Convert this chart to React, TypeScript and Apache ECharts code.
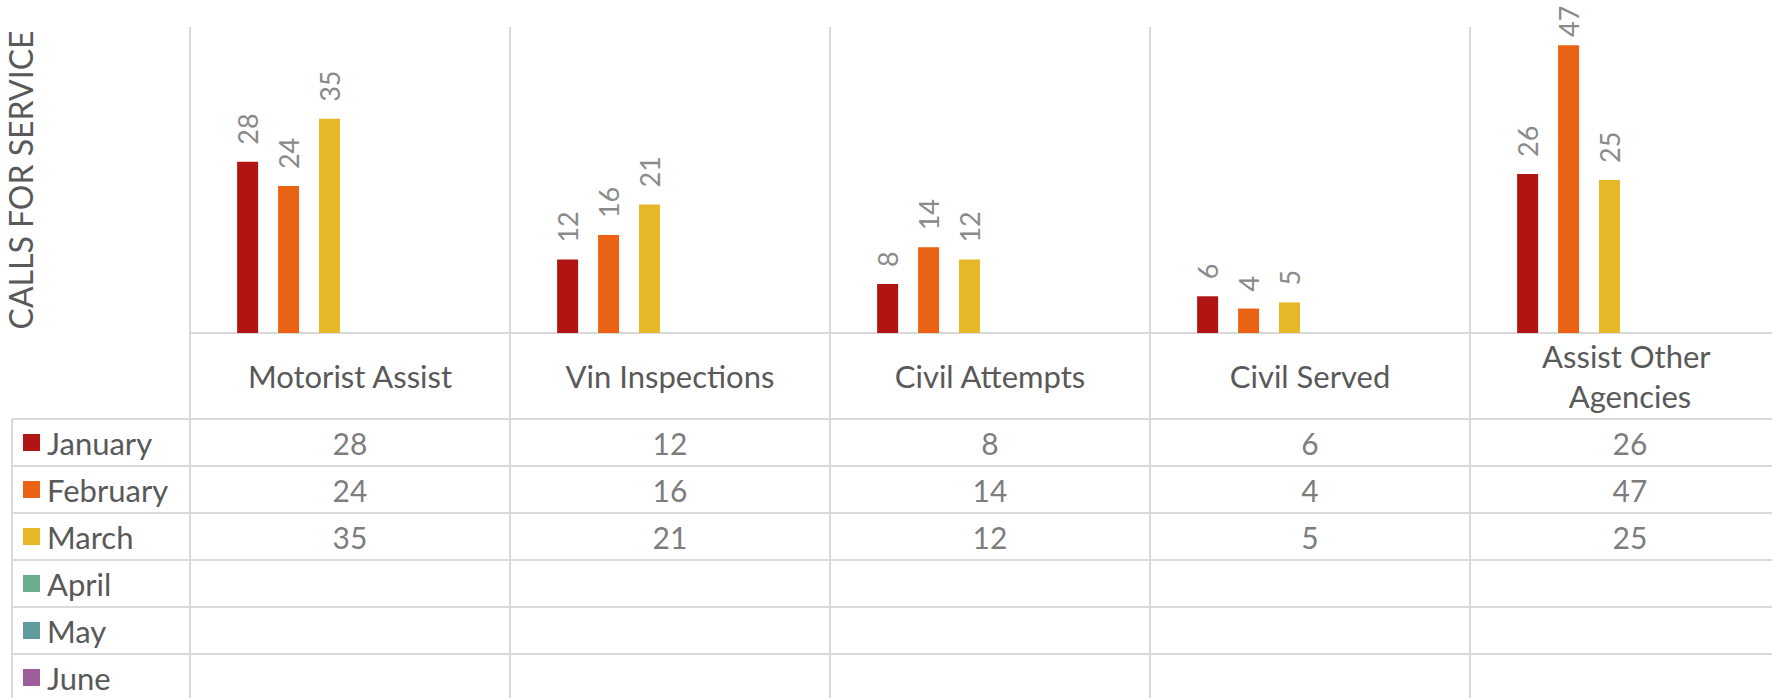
import React, { useEffect, useRef } from "react";
import * as echarts from "echarts";

const categories = [
  "Motorist Assist",
  "Vin Inspections",
  "Civil Attempts",
  "Civil Served",
  "Assist Other Agencies",
];
const months = ["January", "February", "March", "April", "May", "June"];
const january: (number | null)[] = [28, 12, 8, 6, 26];
const february: (number | null)[] = [24, 16, 14, 4, 47];
const march: (number | null)[] = [35, 21, 12, 5, 25];
const april: (number | null)[] = [null, null, null, null, null];
const may: (number | null)[] = [null, null, null, null, null];
const june: (number | null)[] = [null, null, null, null, null];
const monthValues = [january, february, march, april, may, june];
const monthColors = ["#B01513", "#EA6312", "#E6B729", "#6AAC90", "#5F9C9D", "#9E5E9B"];
const yAxisTitle = "CALLS FOR SERVICE";
const yMin = 0;
const yMax = 50;

const LINE = "#D9D9D9";
const TEXT = "#595959";
const FONT = "Lato";

export default function App() {
  const ref = useRef<HTMLDivElement>(null);

  useEffect(() => {
    if (!ref.current) return;
    const chart = echarts.init(ref.current, undefined, { renderer: "svg" });

    const lineStyle = { color: LINE, width: 2 };

    const barSeries = months.map((m, i) => ({
      type: "bar",
      name: m,
      xAxisIndex: 0,
      yAxisIndex: 0,
      data: monthValues[i].map((v) => (v == null ? "-" : v)),
      barWidth: 21,
      barGap: "95%",
      itemStyle: { color: monthColors[i] },
      label: {
        show: true,
        position: "top",
        distance: 17,
        rotate: 90,
        align: "left",
        verticalAlign: "middle",
        fontSize: 27,
        fontFamily: FONT,
        color: "#8A8A8A",
      },
      labelLayout: (params: any) => {
        const r = params.rect;
        if (!r) return {};
        const top = Math.min(r.y, r.y + r.height);
        return { y: Math.max(top - 17, 37) };
      },
    }));

    const tableData: any[] = [];
    months.forEach((m, mi) => {
      monthValues[mi].forEach((v, ci) => {
        if (v != null) tableData.push([categories[ci], m, v]);
      });
    });

    const gridBase = { outerBoundsMode: "none", containLabel: false };

    chart.setOption({
      animation: false,
      textStyle: { fontFamily: FONT },
      legend: {
        data: months,
        orient: "vertical",
        left: 23,
        top: 419,
        height: 300,
        padding: 0,
        itemWidth: 17,
        itemHeight: 17,
        itemGap: 0,
        icon: "rect",
        selectedMode: false,
        textStyle: {
          fontSize: 31,
          color: TEXT,
          fontFamily: FONT,
          lineHeight: 47,
          padding: [0, 0, 0, 2],
        },
      },
      grid: [
        { ...gridBase, left: 190, top: 27, width: 1600, height: 306 },
        { ...gridBase, left: 190, top: 419, width: 1600, height: 282 },
        { ...gridBase, left: 12, top: 419, width: 178, height: 282 },
      ],
      xAxis: [
        {
          type: "category",
          gridIndex: 0,
          data: categories,
          axisLine: { show: true, lineStyle },
          axisTick: { show: true, length: 86, interval: 0, lineStyle },
          splitLine: { show: true, interval: 0, lineStyle },
          axisLabel: {
            interval: 0,
            fontSize: 31,
            fontFamily: FONT,
            color: TEXT,
            margin: 43,
            verticalAlign: "middle",
            width: 260,
            overflow: "break",
            lineHeight: 40,
          },
        },
        {
          type: "category",
          gridIndex: 1,
          data: categories,
          axisLine: { show: false },
          axisTick: { show: false },
          axisLabel: { show: false },
          splitLine: { show: true, interval: 0, lineStyle },
        },
        {
          type: "category",
          gridIndex: 2,
          data: [""],
          axisLine: { show: false },
          axisTick: { show: false },
          axisLabel: { show: false },
          splitLine: { show: true, interval: 0, lineStyle },
        },
      ],
      yAxis: [
        {
          type: "value",
          gridIndex: 0,
          min: yMin,
          max: yMax,
          axisLine: { show: false },
          axisTick: { show: false },
          axisLabel: { show: false },
          splitLine: { show: false },
          name: yAxisTitle,
          nameLocation: "middle",
          nameGap: 154,
          nameTextStyle: { fontSize: 32, color: TEXT, fontFamily: FONT, padding: [0, 0, 0, 0] },
        },
        {
          type: "category",
          gridIndex: 1,
          data: months,
          inverse: true,
          axisLine: { show: false },
          axisTick: { show: false },
          axisLabel: { show: false },
          splitLine: { show: true, interval: 0, lineStyle },
        },
        {
          type: "category",
          gridIndex: 2,
          data: months,
          inverse: true,
          axisLine: { show: false },
          axisTick: { show: false },
          axisLabel: { show: false },
          splitLine: { show: true, interval: 0, lineStyle },
        },
      ],
      series: [
        ...barSeries,
        {
          type: "scatter",
          name: "table",
          xAxisIndex: 1,
          yAxisIndex: 1,
          data: tableData,
          symbol: "rect",
          symbolSize: 1,
          itemStyle: { color: "rgba(0,0,0,0)" },
          label: {
            show: true,
            position: "inside",
            formatter: (p: any) => String(p.value[2]),
            fontSize: 30,
            fontFamily: FONT,
            color: TEXT,
          },
          emphasis: { disabled: true },
        },
      ],
    });

    return () => chart.dispose();
  }, []);

  return (
    <div
      ref={ref}
      style={{ position: "fixed", left: 0, top: 0, width: 1772, height: 698, background: "#fff" }}
    />
  );
}
